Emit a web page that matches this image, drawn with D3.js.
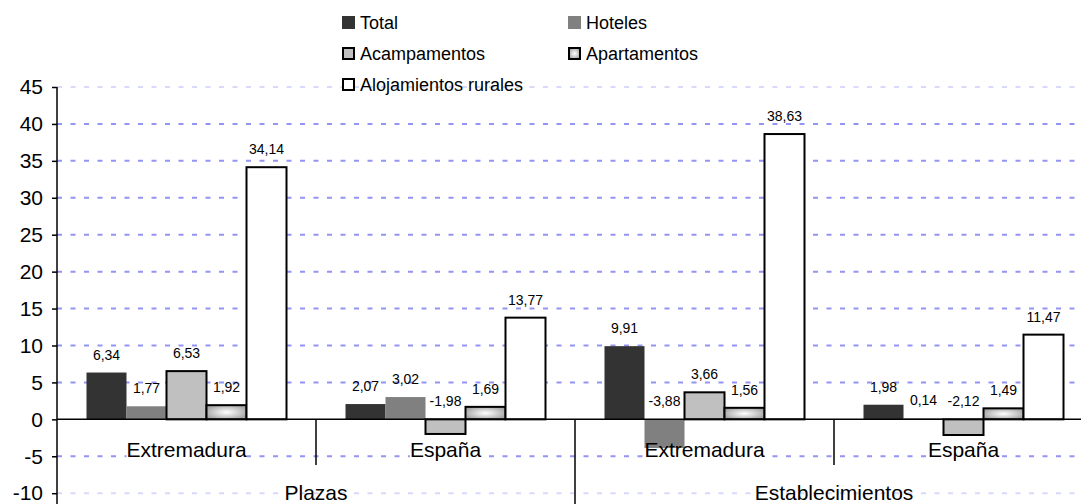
<!DOCTYPE html>
<html>
<head>
<meta charset="utf-8">
<script src="https://cdn.jsdelivr.net/npm/d3@7/dist/d3.min.js"></script>
<style>
  html, body { margin: 0; padding: 0; background: #fff; }
  text { font-family: "Liberation Sans", Arial, sans-serif; fill: #000; }
</style>
</head>
<body>
<div id="chart"></div>
<script>
// Data
const groups = ["Plazas", "Establecimientos"];
const regions = ["Extremadura", "España"];
const series = ["Total", "Hoteles", "Acampamentos", "Apartamentos", "Alojamientos rurales"];
const plazasExtremadura = [6.34, 1.77, 6.53, 1.92, 34.14];
const plazasEspana = [2.07, 3.02, -1.98, 1.69, 13.77];
const establExtremadura = [9.91, -3.88, 3.66, 1.56, 38.63];
const establEspana = [1.98, 0.14, -2.12, 1.49, 11.47];
const yTicks = [-10, -5, 0, 5, 10, 15, 20, 25, 30, 35, 40, 45];

const categories = [
  { group: "Plazas", region: "Extremadura", values: plazasExtremadura },
  { group: "Plazas", region: "España", values: plazasEspana },
  { group: "Establecimientos", region: "Extremadura", values: establExtremadura },
  { group: "Establecimientos", region: "España", values: establEspana }
];

const width = 1081, height = 504;
const plotLeft = 57, plotRight = 1093, plotTop = 87, plotBottom = 493.2;

const fills = ["#333333", "#808080", "#c0c0c0", "url(#apGrad)", "#ffffff"];
const strokes = ["none", "none", "#000", "#000", "#000"];

// Spanish-style numbers with a plain hyphen for negatives
const locale = d3.formatLocale({ decimal: ",", thousands: ".", grouping: [3], currency: ["", " €"], minus: "-" });
const fmtTick = locale.format("d");
const fmtVal = locale.format(".2f");

const svg = d3.select("#chart").append("svg")
    .attr("width", width)
    .attr("height", height);

const defs = svg.append("defs");
const grad = defs.append("radialGradient").attr("id", "apGrad")
    .attr("cx", "50%").attr("cy", "50%").attr("r", "55%");
grad.append("stop").attr("offset", "0%").attr("stop-color", "#ffffff");
grad.append("stop").attr("offset", "100%").attr("stop-color", "#a6a6a6");

const y = d3.scaleLinear().domain([-10, 45]).range([plotBottom, plotTop]);
const x0 = d3.scaleBand()
    .domain(categories.map((d, i) => i))
    .range([plotLeft, plotRight]);
const x1 = d3.scaleBand()
    .domain(series)
    .range([0, x0.bandwidth()])
    .paddingOuter(0.7375);

// Gridlines
svg.append("g").selectAll("line")
    .data(yTicks.filter(d => d !== 0))
    .enter().append("line")
    .attr("x1", plotLeft).attr("x2", width)
    .attr("y1", d => y(d)).attr("y2", d => y(d))
    .attr("stroke", "#9494f5")
    .attr("stroke-width", 2)
    .attr("stroke-dasharray", "5,8.5")
    .attr("opacity", d => (d === 45 || d === -10) ? 0.35 : 1);

// Y axis
const yAxis = svg.append("g")
    .attr("transform", `translate(${plotLeft},0)`)
    .call(d3.axisLeft(y).tickValues(yTicks).tickSize(5).tickPadding(9).tickFormat(fmtTick));
yAxis.select(".domain").remove();
yAxis.selectAll(".tick line").attr("stroke", "#000").attr("stroke-width", 1.5);
yAxis.selectAll(".tick text")
    .style("font-family", "Liberation Sans, Arial, sans-serif")
    .style("font-size", "21px")
    .attr("fill", "#000");
svg.append("line")
    .attr("x1", plotLeft).attr("x2", plotLeft)
    .attr("y1", plotTop).attr("y2", height)
    .attr("stroke", "#000").attr("stroke-width", 1.5);

// Category groups (backing layer first, then bars, then text)
const cat = svg.append("g").selectAll("g")
    .data(categories)
    .enter().append("g")
    .attr("transform", (d, i) => `translate(${x0(i)},0)`);

const backing = cat.append("rect").attr("fill", "#fff");

cat.selectAll("rect.bar")
    .data(d => d.values.map((v, j) => ({ key: series[j], value: v, j: j })))
    .enter().append("rect")
    .attr("class", "bar")
    .attr("x", d => x1(d.key))
    .attr("width", x1.bandwidth())
    .attr("y", d => y(Math.max(0, d.value)))
    .attr("height", d => Math.abs(y(d.value) - y(0)))
    .attr("fill", d => fills[d.j])
    .attr("stroke", d => strokes[d.j])
    .attr("stroke-width", 2);

// Value labels
cat.selectAll("text.val")
    .data(d => d.values.map((v, j) => ({ key: series[j], value: v })))
    .enter().append("text")
    .attr("class", "val")
    .attr("x", d => x1(d.key) + x1.bandwidth() / 2)
    .attr("y", d => y(Math.max(0, d.value)) - 13)
    .attr("text-anchor", "middle")
    .style("font-size", "14px")
    .text(d => fmtVal(d.value));

// Zero line
svg.append("line")
    .attr("x1", plotLeft).attr("x2", width)
    .attr("y1", y(0)).attr("y2", y(0))
    .attr("stroke", "#000").attr("stroke-width", 1.5);

// Category separators
categories.forEach((d, i) => {
  if (i === 0) return;
  const isGroupEdge = categories[i - 1].group !== d.group;
  svg.append("line")
    .attr("x1", x0(i)).attr("x2", x0(i))
    .attr("y1", y(0)).attr("y2", isGroupEdge ? height : 465)
    .attr("stroke", "#000").attr("stroke-width", 1.5);
});

// Region labels
cat.each(function(d) {
  const g = d3.select(this);
  const t = g.append("text")
    .attr("x", x0.bandwidth() / 2)
    .attr("y", 457)
    .attr("text-anchor", "middle")
    .style("font-size", "21px")
    .text(d.region);
  const b = t.node().getBBox();
  g.select("rect")
    .attr("x", b.x).attr("y", b.y + 3)
    .attr("width", b.width).attr("height", b.height - 3);
});

// Group labels
groups.forEach(gname => {
  const idx = categories.map((d, i) => i).filter(i => categories[i].group === gname);
  const cx = (x0(idx[0]) + x0(idx[idx.length - 1]) + x0.bandwidth()) / 2;
  svg.append("text")
    .attr("x", cx).attr("y", 500)
    .attr("text-anchor", "middle")
    .style("font-size", "21px")
    .text(gname);
});

// Legend
const legendX = [342, 568];
const legend = svg.append("g");
series.forEach((s, i) => {
  const lx = legendX[i % 2];
  const ly = 22.5 + Math.floor(i / 2) * 31;
  const item = legend.append("g").attr("transform", `translate(${lx},${ly})`);
  item.append("rect")
    .attr("x", strokes[i] === "none" ? 0 : 1).attr("y", strokes[i] === "none" ? -6.5 : -5.5)
    .attr("width", strokes[i] === "none" ? 13 : 11).attr("height", strokes[i] === "none" ? 13 : 11)
    .attr("fill", fills[i])
    .attr("stroke", strokes[i])
    .attr("stroke-width", 2);
  item.append("text")
    .attr("x", 18).attr("y", 6.5)
    .style("font-size", "18px")
    .text(s);
});
</script>
</body>
</html>
